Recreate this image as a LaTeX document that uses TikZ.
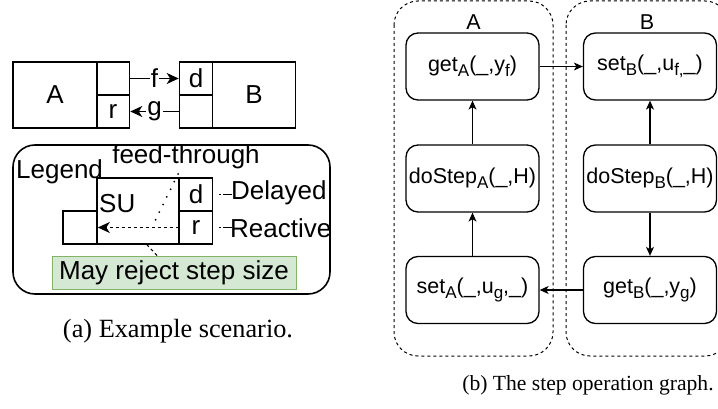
\documentclass[tikz,border=0pt]{standalone}
\usepackage{fontspec}
\setmainfont{Liberation Serif}
\newfontfamily\arialfont{Liberation Sans}
\usetikzlibrary{arrows.meta}

\definecolor{notefill}{HTML}{D5E8D4}
\definecolor{notedraw}{HTML}{82B366}

% lowered, smaller index text
\newcommand\lowsub[1]{\raisebox{-0.22em}{\fontsize{17}{17}\selectfont #1}}

\begin{document}
\begin{tikzpicture}[x=1pt,y=-1pt,
  big/.style={font=\arialfont\fontsize{26}{28}\selectfont},
  mid/.style={font=\arialfont\fontsize{21.5}{24}\selectfont},
  unit/.style={draw, line width=1.6pt, inner sep=0pt, big},
  port/.style={unit, minimum width=33pt, minimum height=33pt},
  bigtip/.style={-{Stealth[length=12pt,width=11pt,inset=3.5pt]}},
  smalltip/.style={-{Stealth[length=9pt,width=8pt,inset=2.5pt]}},
  op/.style={draw, line width=1.3pt, rounded corners=12pt, minimum width=133pt,
    minimum height=67pt, inner sep=0pt, mid},
  grp/.style={draw, dashed, line width=1pt, rounded corners=24pt},
  flow/.style={line width=1.1pt, smalltip},
  lbl/.style={fill=white, inner sep=1pt, big},
  hint/.style={line width=1.5pt, dash pattern=on 0pt off 6pt on 2pt off 2pt on 9pt off 20pt}
]
\clip (0,0) rectangle (718,409);
\fill[white] (0,0) rectangle (718,409);

% ---------------- (a) example scenario ----------------
\node[unit, minimum width=84pt, minimum height=66pt] (A) at (55,95) {A};
\node[port] (Aout) at (113,78.5) {};
\node[port] (Ar)   at (113,111.5) {r};
\node[port] (Bd)   at (196,78.5) {d};
\node[port] (Bout) at (196,111.5) {};
\node[unit, minimum width=83pt, minimum height=66pt] (B) at (254,95) {B};

\draw[line width=1.6pt, bigtip] (Aout.east) -- node[lbl] {f} (Bd.west);
\draw[line width=1.6pt, bigtip] (Bout.west) -- node[lbl] {g} (Ar.east);

% legend
\draw[line width=1.6pt, rounded corners=22pt] (13,145) rectangle (330,294);
\node[unit, minimum width=82pt, minimum height=66pt] (SU) at (138,211) {};
\node[big, anchor=west, inner sep=0pt] (legend) at (16,172) {Legend};
\node[big, inner sep=0pt] (ft) at (186,157) {feed-through};
\node[big, anchor=west, inner sep=0pt] (sulabel) at (99,204) {SU};
\node[port] (Ld) at (196,194.5) {d};
\node[port] (Lr) at (196,227.5) {r};
\node[unit, minimum width=34pt, minimum height=33pt] (Lin) at (80,227.5) {};

\draw[line width=1.4pt, dashed, bigtip] (Lr.west) -- (Lin.east);

\coordinate (fttop) at (178,174);
\coordinate (ftbot) at (154,223);
\draw[line width=2pt, dash pattern=on 0pt off 8.5pt, line cap=round] (fttop) -- (ftbot);

\draw[hint] (Ld.east) -- ++(24,0);
\draw[hint] (Lr.east) -- ++(19,0);
\node[big, anchor=west, inner sep=0pt] (delayed) at (231,193) {Delayed};
\node[big, anchor=west, inner sep=0pt] (reactive) at (230,228) {Reactive};

\node[draw=notedraw, fill=notefill, line width=1pt, minimum width=244pt,
  minimum height=33pt, inner sep=0pt, big] (note) at (174,272.5) {May reject step size};
\draw[line width=1.1pt, dashed] (note.north -| 157,0) -- (SU.south -| 147,0);

\node[font=\fontsize{26.3}{28}\selectfont] (capa) at (178,331) {(a) Example scenario.};

% ---------------- (b) step operation graph ----------------
\draw[grp] (394,1) rectangle (553,356);
\draw[grp] (566,1) rectangle (729,356);
\node[mid] (gA) at (473.5,22) {A};
\node[mid] (gB) at (647,22) {B};

\node[op] (getA)    at (472.5,66.5) {get\lowsub{A}(\_,y\lowsub{f})};
\node[op] (doStepA) at (472.5,178.5) {doStep\lowsub{A}(\_,H)};
\node[op] (setA)    at (472.5,290) {set\lowsub{A}(\_,u\lowsub{g},\_)};
\node[op] (setB)    at (650,66.5) {set\lowsub{B}(\_,u\lowsub{f,}\_)};
\node[op] (doStepB) at (650,178.5) {doStep\lowsub{B}(\_,H)};
\node[op] (getB)    at (650,290) {get\lowsub{B}(\_,y\lowsub{g})};

\draw[flow] (getA.east) -- (setB.west);
\draw[flow] (doStepA.north) -- (getA.south);
\draw[flow] (setA.north) -- (doStepA.south);
\draw[flow] (doStepB.north) -- (setB.south);
\draw[flow] (doStepB.south) -- (getB.north);
\draw[flow] (getB.west) -- (setA.east);

\node[font=\fontsize{21.6}{24}\selectfont] (capb) at (588,385) {(b) The step operation graph.};
\end{tikzpicture}
\end{document}
